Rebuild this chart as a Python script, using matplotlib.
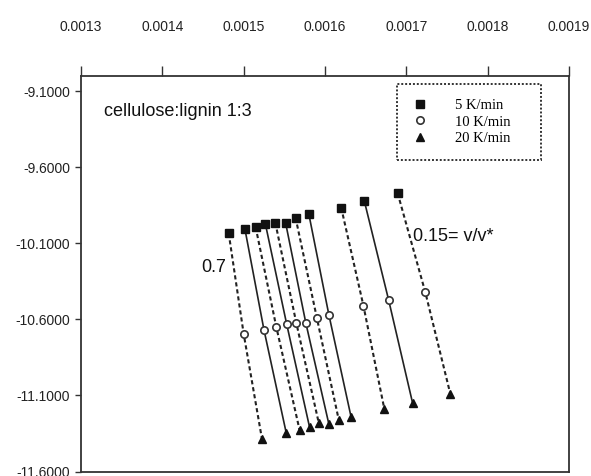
import matplotlib
matplotlib.use("Agg")
import matplotlib.pyplot as plt
from matplotlib.lines import Line2D

# ---- data ----
x_5 = [0.0014816, 0.0015016, 0.0015147, 0.0015266, 0.0015389, 0.0015515,
       0.0015638, 0.0015801, 0.0016199, 0.0016485, 0.0016893]
y_5 = [-10.034, -10.008, -9.993, -9.970, -9.964, -9.964,
       -9.931, -9.907, -9.865, -9.825, -9.770]
x_10 = [0.0015000, 0.0015249, 0.0015401, 0.0015528, 0.0015647, 0.0015764,
        0.0015899, 0.0016047, 0.0016472, 0.0016783, 0.0017233]
y_10 = [-10.695, -10.667, -10.649, -10.629, -10.623, -10.623,
        -10.588, -10.568, -10.509, -10.474, -10.421]
x_20 = [0.0015225, 0.0015524, 0.0015687, 0.0015810, 0.0015924, 0.0016047,
        0.0016169, 0.0016321, 0.0016730, 0.0017077, 0.0017540]
y_20 = [-11.386, -11.348, -11.326, -11.308, -11.282, -11.287,
        -11.260, -11.242, -11.190, -11.150, -11.088]

x_ticks = [0.0013, 0.0014, 0.0015, 0.0016, 0.0017, 0.0018, 0.0019]
y_ticks = [-9.1, -9.6, -10.1, -10.6, -11.1, -11.6]
legend_labels = ["5 K/min", "10 K/min", "20 K/min"]
title_text = "cellulose:lignin 1:3"
label_first = "0.7"
label_last = "0.15= v/v*"

# ---- figure ----
fig = plt.figure(figsize=(5.91, 4.76), dpi=100)
ax = fig.add_axes([81 / 591, 1 - 471.5 / 476, (569 - 81) / 591, (471.5 - 76) / 476])

dark = "#222222"
for i in range(len(x_5)):
    ls = (0, (2.0, 1.4)) if i % 2 == 0 else "-"
    lw = 1.5 if i % 2 == 0 else 1.2
    ax.plot([x_5[i], x_10[i], x_20[i]], [y_5[i], y_10[i], y_20[i]],
            color=dark, lw=lw, linestyle=ls, zorder=2)

ax.plot(x_5, y_5, linestyle="none", marker="s", ms=5.3, color="#111111", zorder=3)
ax.plot(x_10, y_10, linestyle="none", marker="o", ms=5.3, mfc="white",
        mec="#333333", mew=1.2, zorder=3)
ax.plot(x_20, y_20, linestyle="none", marker="^", ms=6.3, color="#111111", zorder=3)

ax.set_xlim(0.0013, 0.0019)
ax.set_ylim(-11.6, -9.0)

ax.xaxis.tick_top()
ax.set_xticks(x_ticks)
ax.set_xticklabels([f"{v:.4f}" for v in x_ticks])
ax.set_yticks(y_ticks)
ax.set_yticklabels([f"{v:.4f}" for v in y_ticks])

for lab in ax.get_xticklabels() + ax.get_yticklabels():
    lab.set_fontfamily("Liberation Sans")
    lab.set_fontsize(10)
    lab.set_color("#222222")

ax.tick_params(axis="x", which="both", top=True, bottom=False, direction="out",
               length=7.5, width=1.0, pad=23, colors="#333333", labelcolor="#222222")
ax.tick_params(axis="y", which="both", left=True, right=False, direction="out",
               length=4.5, width=1.0, pad=3.5, colors="#333333", labelcolor="#222222")
for s in ax.spines.values():
    s.set_linewidth(1.3)
    s.set_color("#333333")

# ---- texts ----
ax.text(0.047, 0.909, title_text, transform=ax.transAxes, fontsize=13,
        family="Liberation Sans", va="center", ha="left", color="#111111")
ax.text(0.001463, -10.258, label_first, fontsize=13, family="Liberation Sans",
        va="center", ha="center", color="#111111")
ax.text(0.0017086, -10.054, label_last, fontsize=13, family="Liberation Sans",
        va="center", ha="left", color="#111111")

# ---- legend ----
handles = [
    Line2D([], [], linestyle="none", marker="s", ms=5.3, color="#111111"),
    Line2D([], [], linestyle="none", marker="o", ms=5.3, mfc="white", mec="#333333", mew=1.2),
    Line2D([], [], linestyle="none", marker="^", ms=6.3, color="#111111"),
]
leg = ax.legend(handles, legend_labels, loc="upper left",
                bbox_to_anchor=(0.6475, 0.795, 0.295, 0.185), mode="expand",
                prop={"family": "Liberation Serif", "size": 10.5},
                handlelength=1.0, handletextpad=1.9, labelspacing=0.2,
                borderpad=1.05, borderaxespad=0.0, fancybox=False, framealpha=1)
frame = leg.get_frame()
frame.set_linestyle((0, (1, 1)))
frame.set_linewidth(1.4)
frame.set_edgecolor("#333333")

fig.savefig("out.png", dpi=100)
